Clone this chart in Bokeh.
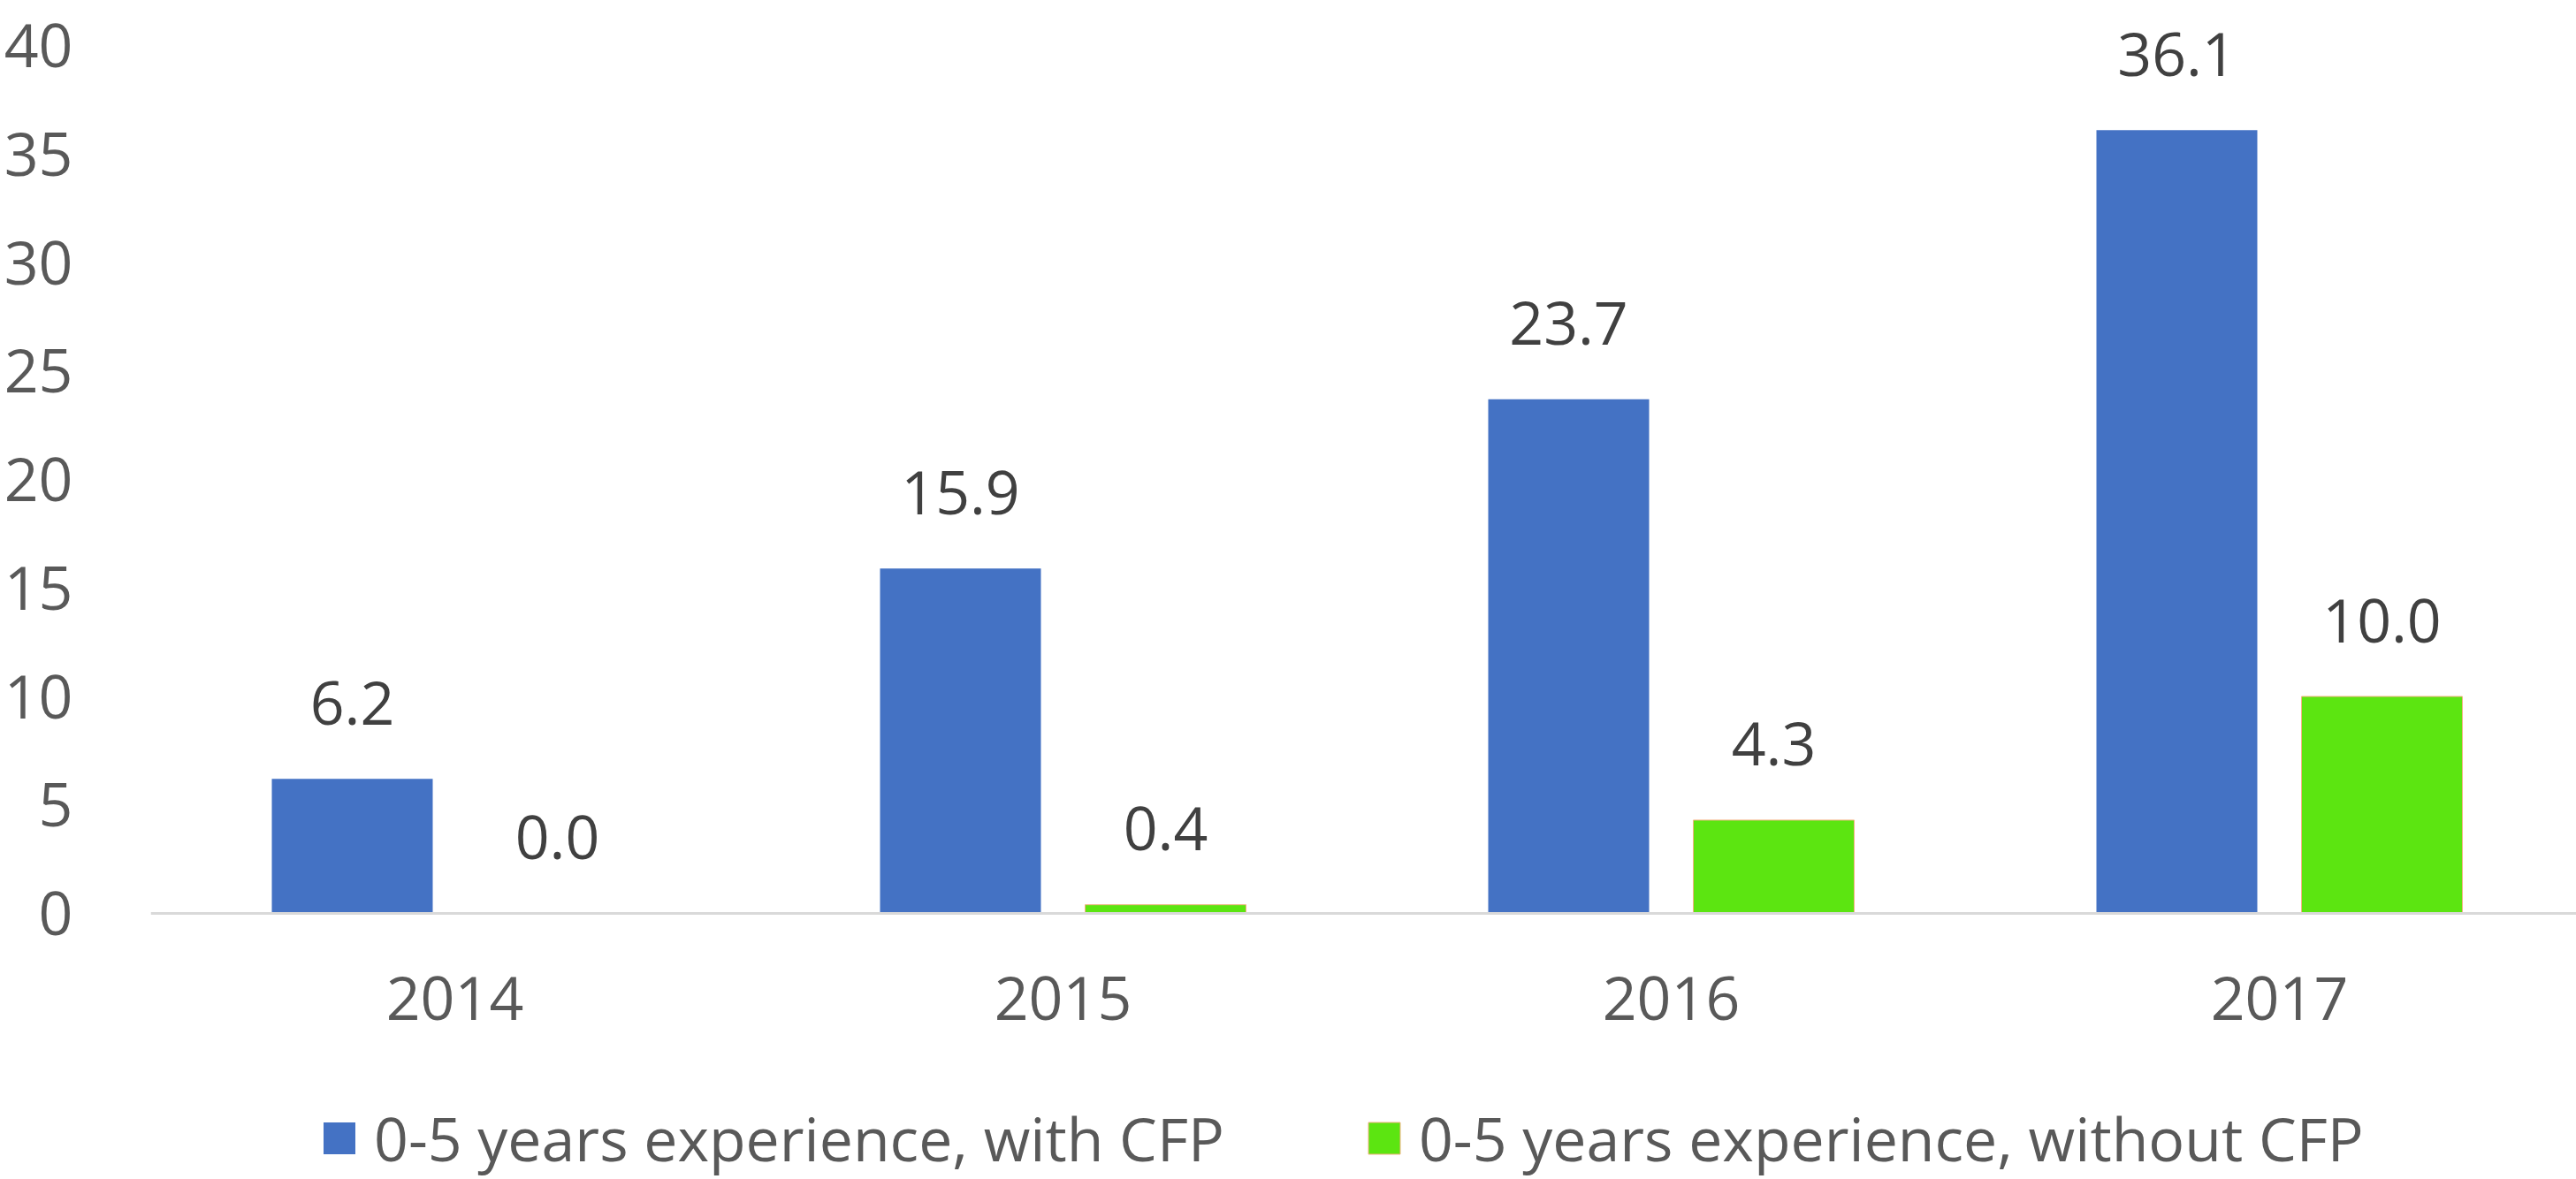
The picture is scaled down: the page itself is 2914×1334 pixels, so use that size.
from bokeh.plotting import figure
from bokeh.models import ColumnDataSource, FixedTicker, Range1d, Legend, LegendItem, Span
from bokeh.core.properties import value
from bokeh.embed import file_html
from bokeh.resources import INLINE

# ---- data ----
years = ["2014", "2015", "2016", "2017"]
with_cfp = [6.2, 15.9, 23.7, 36.1]
without_cfp = [0.0, 0.4, 4.3, 10.0]
series_names = ["0-5 years experience, with CFP", "0-5 years experience, without CFP"]
y_ticks = [0, 5, 10, 15, 20, 25, 30, 35, 40]

# ---- layout constants ----
W, H = 2914, 1334
FRAME_L = 170
ZERO_PX = 1033          # pixel row of y = 0
PX_PER_CAT = 688.0
PX_PER_UNIT = 24.55
BAR_OFF = 116 / PX_PER_CAT
BAR_W = 182 / PX_PER_CAT

BLUE = "#4472C4"
GREEN = "#5CE511"
FONT = "Open Sans"

x_start = -0.5
x_end = x_start + (W - FRAME_L) / PX_PER_CAT
y_end = ZERO_PX / PX_PER_UNIT
y_start = -(H - ZERO_PX) / PX_PER_UNIT

p = figure(width=W, height=H, output_backend="svg", toolbar_location=None, title=None,
           x_axis_location=None,
           x_range=Range1d(x_start, x_end), y_range=Range1d(y_start, y_end),
           min_border_left=FRAME_L, min_border_right=0, min_border_top=0,
           min_border_bottom=0)
p.outline_line_color = None
p.grid.visible = False
p.background_fill_color = "white"
p.border_fill_color = "white"

idx = list(range(len(years)))
src_a = ColumnDataSource(dict(x=[i - BAR_OFF for i in idx], top=with_cfp,
                              lab=[f"{v:.1f}" for v in with_cfp]))
src_b = ColumnDataSource(dict(x=[i + BAR_OFF for i in idx], top=without_cfp,
                              lab=[f"{v:.1f}" for v in without_cfp]))
src_cat = ColumnDataSource(dict(x=idx, y=[0] * len(idx), lab=years))

r_a = p.vbar(x="x", top="top", bottom=0, width=BAR_W, source=src_a,
             fill_color=BLUE, line_color=None)
r_b = p.vbar(x="x", top="top", bottom=0, width=BAR_W, source=src_b,
             fill_color=GREEN, line_color="#F4B183", line_width=1)

# category axis line at y = 0
p.add_layout(Span(location=0, dimension="width", line_color="#D9D9D9", line_width=3))

# value labels
for src in (src_a, src_b):
    p.text(x="x", y="top", text="lab", source=src, text_align="center",
           text_baseline="alphabetic", y_offset=-86,
           text_font=value(FONT), text_font_size="68px", text_color="#404040")

# category labels
p.text(x="x", y="y", text="lab", source=src_cat, text_align="center",
       text_baseline="middle", y_offset=96,
       text_font=value(FONT), text_font_size="68px", text_color="#595959")

# y axis
ya = p.yaxis[0]
ya.ticker = FixedTicker(ticks=y_ticks)
ya.axis_line_color = None
ya.major_tick_line_color = None
ya.minor_tick_line_color = None
ya.major_label_standoff = 82
ya.major_label_text_font = FONT
ya.major_label_text_font_size = "68px"
ya.major_label_text_color = "#595959"

legend = Legend(items=[LegendItem(label=series_names[0], renderers=[r_a]),
                       LegendItem(label=series_names[1], renderers=[r_b])],
                orientation="horizontal", location=(191, 0),
                padding=0, margin=0, spacing=158, label_standoff=17,
                glyph_width=45, glyph_height=45,
                label_text_font=FONT, label_text_font_size="68px",
                label_text_color="#595959",
                border_line_alpha=0, background_fill_alpha=0)
p.add_layout(legend)

open("out.html", "w").write(file_html(p, INLINE))
